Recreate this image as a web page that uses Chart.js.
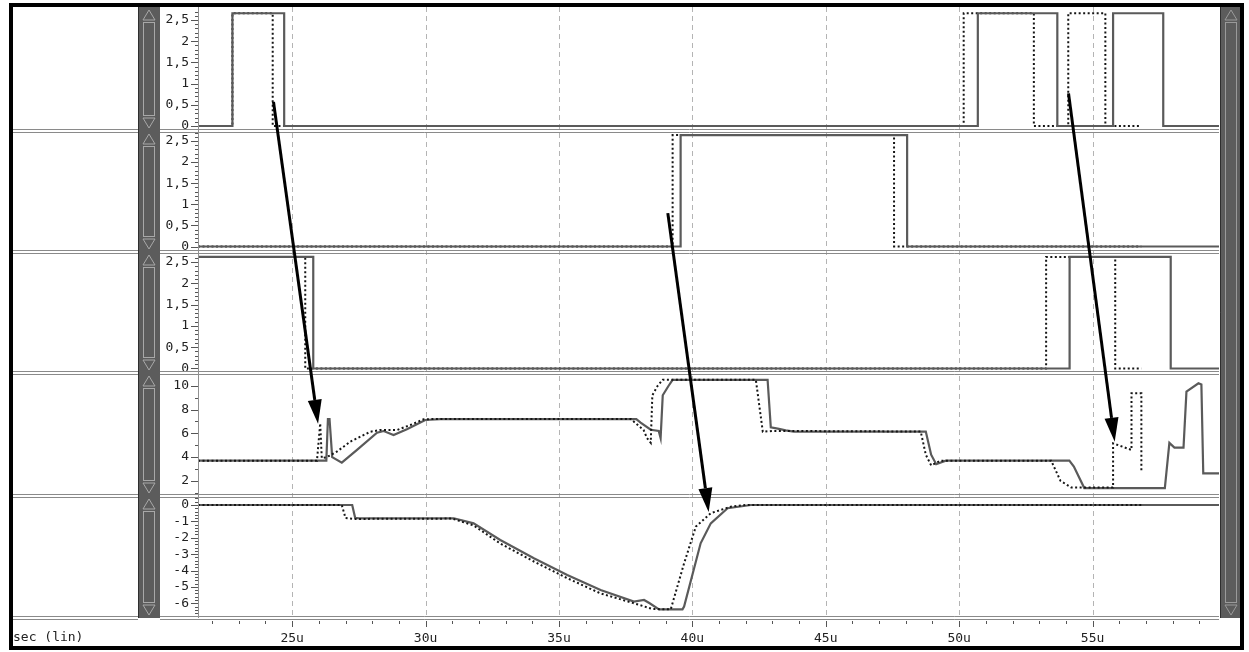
<!DOCTYPE html>
<html>
<head>
<meta charset="utf-8">
<script src="https://cdn.jsdelivr.net/npm/chart.js@4/dist/chart.umd.min.js"></script>
<style>
  html, body { margin: 0; padding: 0; background: #fff; overflow: hidden; }
  #wrap { position: relative; width: 1249px; height: 652px; }
</style>
</head>
<body>
<div id="wrap"><canvas id="c" width="1249" height="652"></canvas></div>
<script>
// ---- time axis (microseconds) ----
const timeRange = [21.47, 59.74];
const timeLabels = [25, 30, 35, 40, 45, 50, 55];

// ---- tick labels per panel ----
const logicTicks = [0, 0.5, 1, 1.5, 2, 2.5];
const voutTicks = [2, 4, 6, 8, 10];
const ioutTicks = [0, -1, -2, -3, -4, -5, -6];

// ---- waveforms: [time (us), value] ; "A" = solid run, "B" = dotted run ----
const in1A = [[21.47,0],[22.76,0],[22.76,2.66],[24.70,2.66],[24.70,0],[50.70,0],[50.70,2.66],[53.68,2.66],[53.68,0],[55.77,0],[55.77,2.66],[57.65,2.66],[57.65,0],[59.74,0]];
const in1B = [[21.47,0],[22.76,0],[22.76,2.66],[24.27,2.66],[24.27,0],[50.17,0],[50.17,2.66],[52.80,2.66],[52.80,0],[54.09,0],[54.09,2.66],[55.48,2.66],[55.48,0],[56.83,0]];

const in2A = [[21.47,0],[39.56,0],[39.56,2.64],[48.05,2.64],[48.05,0],[59.74,0]];
const in2B = [[21.47,0],[39.26,0],[39.26,2.64],[47.56,2.64],[47.56,0],[56.83,0]];

const in3A = [[21.47,2.62],[25.79,2.62],[25.79,0],[54.14,0],[54.14,2.62],[57.93,2.62],[57.93,0],[59.74,0]];
const in3B = [[21.47,2.62],[25.49,2.62],[25.49,0],[53.26,0],[53.26,2.62],[55.85,2.62],[55.85,0],[56.83,0]];

const voutA = [[21.47,3.7],[26.28,3.7],[26.34,7.2],[26.40,7.2],[26.50,4.0],[26.86,3.53],[27.43,4.6],[28.18,6.05],[28.43,6.19],[28.8,5.86],[29.30,6.34],[29.99,7.12],[30.55,7.2],[37.9,7.2],[38.06,6.9],[38.44,6.3],[38.74,6.2],[38.81,5.6],[38.89,9.2],[39.11,10.0],[39.26,10.5],[42.82,10.5],[42.94,6.5],[43.2,6.4],[43.5,6.25],[43.80,6.15],[48.75,6.15],[48.95,4.2],[49.14,3.4],[49.5,3.7],[54.13,3.7],[54.3,3.2],[54.69,1.4],[57.71,1.4],[57.88,5.2],[58.07,4.8],[58.41,4.8],[58.52,9.5],[58.97,10.2],[59.08,10.1],[59.15,2.64],[59.74,2.64]];
const voutB = [[21.47,3.7],[25.93,3.7],[26.05,6.84],[26.11,3.9],[26.3,4.0],[26.67,4.45],[27.18,5.3],[27.93,6.13],[28.3,6.28],[28.93,6.28],[29.43,6.7],[29.93,7.18],[30.3,7.2],[37.69,7.2],[38.17,6.28],[38.3,5.6],[38.44,5.2],[38.5,9.2],[38.7,10.0],[38.89,10.5],[42.38,10.5],[42.64,6.13],[43.0,6.2],[48.56,6.15],[48.75,4.2],[48.95,3.3],[49.3,3.7],[53.45,3.7],[53.8,2.0],[54.20,1.45],[55.77,1.45],[55.77,5.16],[56.46,4.6],[56.46,9.36],[56.83,9.36],[56.83,2.77]];

const ioutA = [[21.47,0],[27.25,0],[27.36,-0.78],[27.5,-0.82],[31.06,-0.81],[31.8,-1.12],[32.8,-2.14],[34.06,-3.25],[35.31,-4.27],[36.56,-5.19],[37.81,-5.9],[38.19,-5.8],[38.4,-6.0],[38.75,-6.37],[39.63,-6.37],[39.69,-6.2],[40.31,-2.34],[40.69,-1.12],[41.32,-0.2],[42.19,0],[59.74,0]];
const ioutB = [[21.47,0],[26.86,0],[27.0,-0.8],[27.3,-0.85],[31.0,-0.83],[31.8,-1.25],[32.8,-2.35],[34.06,-3.45],[35.31,-4.47],[36.56,-5.4],[37.81,-6.0],[38.5,-6.35],[39.19,-6.37],[39.69,-3.56],[40.13,-1.32],[40.69,-0.5],[41.44,-0.1],[42.0,0],[56.83,0]];

// ---- annotation arrows: start/end in data units of a panel ----
const arrowMarks = [
  { t0: 24.30, v0: 0.57, axis0: 'y1', t1: 25.97, v1: 6.8, axis1: 'y4' },
  { t0: 39.08, v0: 0.79, axis0: 'y2', t1: 40.61, v1: -0.43, axis1: 'y5' },
  { t0: 54.10, v0: 0.77, axis0: 'y1', t1: 55.83, v1: 5.3, axis1: 'y4' }
];

const monoFamily = '"DejaVu Sans Mono", "Liberation Mono", monospace';
const textColor = '#222';
const solidColor = '#5a5a5a';
const dotColor = '#151515';

// panel layout, top to bottom
const panels = [
  { id: 'y1', a: in1A, b: in1B, min: -0.118, max: 2.807, labels: logicTicks, minor: 0.1, weight: 124, dotsOnTop: false },
  { id: 'y2', a: in2A, b: in2B, min: -0.13,  max: 2.737, labels: logicTicks, minor: 0.1, weight: 121, dotsOnTop: false },
  { id: 'y3', a: in3A, b: in3B, min: -0.106, max: 2.735, labels: logicTicks, minor: 0.1, weight: 121, dotsOnTop: false },
  { id: 'y4', a: voutA, b: voutB, min: 0.73, max: 11.07, labels: voutTicks, minor: 1, weight: 123, dotsOnTop: true },
  { id: 'y5', a: ioutA, b: ioutB, min: -6.9, max: 0.55, labels: ioutTicks, minor: 0.2, weight: 122, dotsOnTop: true }
];

const toXY = arr => arr.map(p => ({ x: p[0], y: p[1] }));

const datasets = [];
panels.forEach(p => {
  const solid = { data: toXY(p.a), yAxisID: p.id, borderColor: solidColor, borderWidth: 2.2, pointRadius: 0, tension: 0, fill: false };
  const dotted = { data: toXY(p.b), yAxisID: p.id, borderColor: dotColor, borderWidth: 2, borderDash: [2, 2.5], pointRadius: 0, tension: 0, fill: false };
  // dataset 0 is painted last (on top)
  if (p.dotsOnTop) datasets.push(dotted, solid); else datasets.push(solid, dotted);
});

// decimal comma, as on the waveform viewer
function fmtTick(v) {
  return String(Math.round(v * 10) / 10).replace('.', ',');
}

function noPad(s) {
  s.paddingTop = 0; s.paddingBottom = 0; s.paddingLeft = 0; s.paddingRight = 0;
}

const scales = {
  x: {
    type: 'linear', position: 'bottom', min: timeRange[0], max: timeRange[1],
    grid: { display: false, drawTicks: false }, border: { display: false },
    ticks: { padding: 13, color: textColor, font: { family: monoFamily, size: 13 }, maxRotation: 0, autoSkip: false, callback: v => v + 'u' },
    afterBuildTicks: s => { s.ticks = timeLabels.map(v => ({ value: v })); },
    afterFit: s => { s.height = 34; noPad(s); }
  }
};
// stacked axes: the last defined sits on top, so add bottom panel first
[...panels].reverse().forEach(p => {
  scales[p.id] = {
    type: 'linear', position: 'left', stack: 'panels', stackWeight: p.weight,
    min: p.min, max: p.max, offset: false,
    grid: { display: false, drawTicks: false }, border: { display: false },
    ticks: { padding: 9, color: textColor, font: { family: monoFamily, size: 13 }, autoSkip: false, callback: v => fmtTick(v) },
    afterBuildTicks: s => { s.ticks = p.labels.map(v => ({ value: v })); },
    afterFit: s => { s.width = 38; noPad(s); }
  };
});

function drawScrollBar(ctx, x, top, w, h, inner) {
  ctx.fillStyle = '#5c5c5c';
  ctx.fillRect(x, top, w, h);
  ctx.strokeStyle = '#2e2e2e';
  ctx.lineWidth = 1;
  ctx.beginPath(); ctx.moveTo(x + 0.5, top); ctx.lineTo(x + 0.5, top + h); ctx.stroke();
  const cx = x + w / 2;
  ctx.strokeStyle = inner;
  ctx.strokeRect(x + 5.5, top + 15.5, w - 11, h - 31);
  ctx.beginPath();
  ctx.moveTo(cx, top + 3); ctx.lineTo(cx - 6, top + 13); ctx.lineTo(cx + 6, top + 13); ctx.closePath();
  ctx.moveTo(cx, top + h - 3); ctx.lineTo(cx - 6, top + h - 13); ctx.lineTo(cx + 6, top + h - 13); ctx.closePath();
  ctx.stroke();
}

function drawArrow(ctx, x0, y0, x1, y1) {
  const ang = Math.atan2(y1 - y0, x1 - x0);
  const headLen = 24, headW = 7;
  const bx = x1 - headLen * Math.cos(ang), by = y1 - headLen * Math.sin(ang);
  ctx.strokeStyle = '#000'; ctx.lineWidth = 3; ctx.lineCap = 'butt';
  ctx.beginPath(); ctx.moveTo(x0, y0); ctx.lineTo(bx, by); ctx.stroke();
  ctx.fillStyle = '#000';
  ctx.beginPath();
  ctx.moveTo(x1, y1);
  ctx.lineTo(bx + headW * Math.sin(ang), by - headW * Math.cos(ang));
  ctx.lineTo(bx - headW * Math.sin(ang), by + headW * Math.cos(ang));
  ctx.closePath(); ctx.fill();
}

const waveFrame = {
  id: 'waveFrame',
  beforeDraw(chart) {
    const { ctx, chartArea: ca } = chart;
    ctx.save();
    ctx.fillStyle = '#fff';
    ctx.fillRect(0, 0, chart.width, chart.height);
    panels.forEach(p => {
      const s = chart.scales[p.id];
      drawScrollBar(ctx, 138, s.top, 22, s.bottom - s.top, '#a8a8a8');
    });
    drawScrollBar(ctx, ca.right + 1, ca.top, 22, ca.bottom - ca.top, '#9a9a9a');
    ctx.restore();
  },
  beforeDatasetsDraw(chart) {
    const { ctx, chartArea: ca, scales: { x } } = chart;
    ctx.save();
    ctx.strokeStyle = '#b4b4b4';
    ctx.lineWidth = 1;
    ctx.setLineDash([5, 4]);
    timeLabels.forEach(t => {
      const px = Math.round(x.getPixelForValue(t)) + 0.5;
      ctx.beginPath(); ctx.moveTo(px, ca.top); ctx.lineTo(px, ca.bottom); ctx.stroke();
    });
    ctx.restore();
  },
  afterDatasetsDraw(chart) {
    const { ctx, chartArea: ca, scales } = chart;
    const x = scales.x;
    ctx.save();
    // panel separators (double rule)
    const bounds = panels.slice(0, 4).map(p => scales[p.id].bottom).concat([ca.bottom]);
    ctx.strokeStyle = '#8a8a8a';
    ctx.lineWidth = 1;
    bounds.forEach(b => {
      const yb = Math.round(b);
      [yb - 1.5, yb + 1.5].forEach(yy => {
        ctx.beginPath(); ctx.moveTo(13, yy); ctx.lineTo(138, yy); ctx.moveTo(160, yy); ctx.lineTo(ca.right, yy); ctx.stroke();
      });
    });
    // value axis line
    ctx.strokeStyle = '#909090';
    ctx.beginPath(); ctx.moveTo(ca.left + 0.5, ca.top); ctx.lineTo(ca.left + 0.5, ca.bottom); ctx.stroke();
    // value axis ticks
    ctx.strokeStyle = '#555';
    panels.forEach(p => {
      const s = scales[p.id];
      const n0 = Math.ceil(p.min / p.minor - 1e-6), n1 = Math.floor(p.max / p.minor + 1e-6);
      for (let k = n0; k <= n1; k++) {
        const v = k * p.minor;
        const py = Math.round(s.getPixelForValue(v)) + 0.5;
        if (py < s.top + 2 || py > s.bottom - 2) continue;
        const major = p.labels.some(l => Math.abs(l - v) < 1e-6);
        ctx.beginPath(); ctx.moveTo(ca.left - (major ? 7 : 3), py); ctx.lineTo(ca.left, py); ctx.stroke();
      }
    });
    // time axis ticks
    for (let t = Math.ceil(timeRange[0]); t <= Math.floor(timeRange[1]); t++) {
      const px = Math.round(x.getPixelForValue(t)) + 0.5;
      const major = timeLabels.includes(t);
      ctx.beginPath(); ctx.moveTo(px, ca.bottom + 3); ctx.lineTo(px, ca.bottom + (major ? 9 : 6)); ctx.stroke();
    }
    // annotation arrows
    arrowMarks.forEach(a => {
      drawArrow(ctx,
        x.getPixelForValue(a.t0), scales[a.axis0].getPixelForValue(a.v0),
        x.getPixelForValue(a.t1), scales[a.axis1].getPixelForValue(a.v1));
    });
    // time axis caption
    ctx.fillStyle = textColor;
    ctx.font = '13px ' + monoFamily;
    ctx.textBaseline = 'middle';
    ctx.textAlign = 'left';
    ctx.fillText('sec (lin)', 13, 638);
    // outer frame
    ctx.strokeStyle = '#000';
    ctx.lineWidth = 4;
    ctx.strokeRect(11, 5, 1231, 643);
    ctx.restore();
  }
};

new Chart(document.getElementById('c'), {
  type: 'line',
  data: { datasets },
  options: {
    responsive: false,
    devicePixelRatio: 1,
    animation: false,
    events: [],
    layout: { padding: { left: 160, top: 7, right: 30, bottom: 0 } },
    plugins: { legend: { display: false }, tooltip: { enabled: false } },
    scales
  },
  plugins: [waveFrame]
});
</script>
</body>
</html>
